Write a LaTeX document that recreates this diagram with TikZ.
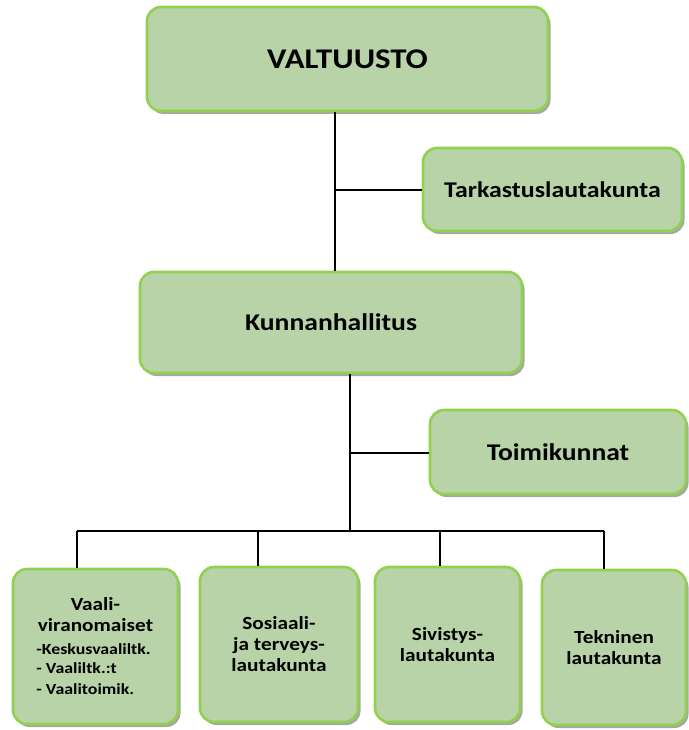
\documentclass[tikz,border=0pt]{standalone}
\usepackage{fontspec}
\setmainfont{Carlito}[FakeStretch=1.15]
\usetikzlibrary{shadows}
\definecolor{laatikko}{RGB}{184,211,167}
\definecolor{reuna}{RGB}{146,208,80}
\newcommand{\kohta}[1]{{\fontsize{15.5}{21}\selectfont\makebox[118pt][l]{#1}}}
\begin{document}
\begin{tikzpicture}[x=1pt,y=-1pt,line cap=butt,line join=miter,font=\bfseries]
	\tikzset{box/.style={draw=reuna,line width=2.6pt,fill=laatikko,rounded corners=14pt,
			align=center,inner sep=2pt,
			drop shadow={shadow xshift=2.5pt,shadow yshift=-3pt,opacity=0.35,fill=black}},
		iso/.style={font=\bfseries\fontsize{28.5}{32}\selectfont},
		keski/.style={font=\bfseries\fontsize{24}{28}\selectfont},
		pieni/.style={font=\bfseries\fontsize{18.5}{21}\selectfont},
		yhteys/.style={line width=1.3pt}}
	\useasboundingbox (0,0) rectangle (688,730);
	%--------- Laatikot
	\node[box,iso,minimum width=401pt,minimum height=104pt] (valtuusto) at (347.5,59) {VALTUUSTO};
	\node[box,keski,font=\bfseries\fontsize{22.5}{26}\selectfont,minimum width=259pt,minimum height=83pt] (tarkastus) at (552.5,189.5) {Tarkastuslautakunta};
	\node[box,keski,minimum width=382pt,minimum height=101pt] (kunnanhallitus) at (331,322.5) {Kunnanhallitus};
	\node[box,keski,minimum width=256pt,minimum height=84pt] (toimikunnat) at (558,452) {Toimikunnat};
	\node[box,pieni,minimum width=165pt,minimum height=155pt] (vaali) at (95.5,646.5)
		{Vaali-\\viranomaiset\\[2pt]\kohta{-Keskusvaaliltk.}\\[-2pt]\kohta{- Vaaliltk.:t}\\\kohta{- Vaalitoimik.}};
	\node[box,pieni,minimum width=158pt,minimum height=155pt] (sosiaali) at (279,644.5) {Sosiaali-\\ja terveys-\\lautakunta};
	\node[box,pieni,minimum width=145pt,minimum height=155pt] (sivistys) at (447.5,644.5) {Sivistys-\\lautakunta};
	\node[box,pieni,minimum width=144pt,minimum height=155pt] (tekninen) at (614,647.5) {Tekninen\\lautakunta};
	%--------- Yhteydet
	\coordinate (h1) at (335,190);
	\coordinate (h2) at (350,453);
	\coordinate (v1) at (77,531);
	\coordinate (v2) at (258,531);
	\coordinate (v3) at (440,531);
	\coordinate (v4) at (604,531);
	\draw[yhteys] (h1 |- valtuusto.south) -- (h1 |- kunnanhallitus.north);
	\draw[yhteys] (h1) -- (h1 -| tarkastus.west);
	\draw[yhteys] (h2 |- kunnanhallitus.south) -- (h2 |- v1);
	\draw[yhteys] (h2) -- (h2 -| toimikunnat.west);
	\draw[yhteys] (v1) -- (v4);
	\foreach \v/\n in {v1/vaali,v2/sosiaali,v3/sivistys,v4/tekninen}
		\draw[yhteys] (\v) -- (\v |- \n.north);
\end{tikzpicture}
\end{document}
